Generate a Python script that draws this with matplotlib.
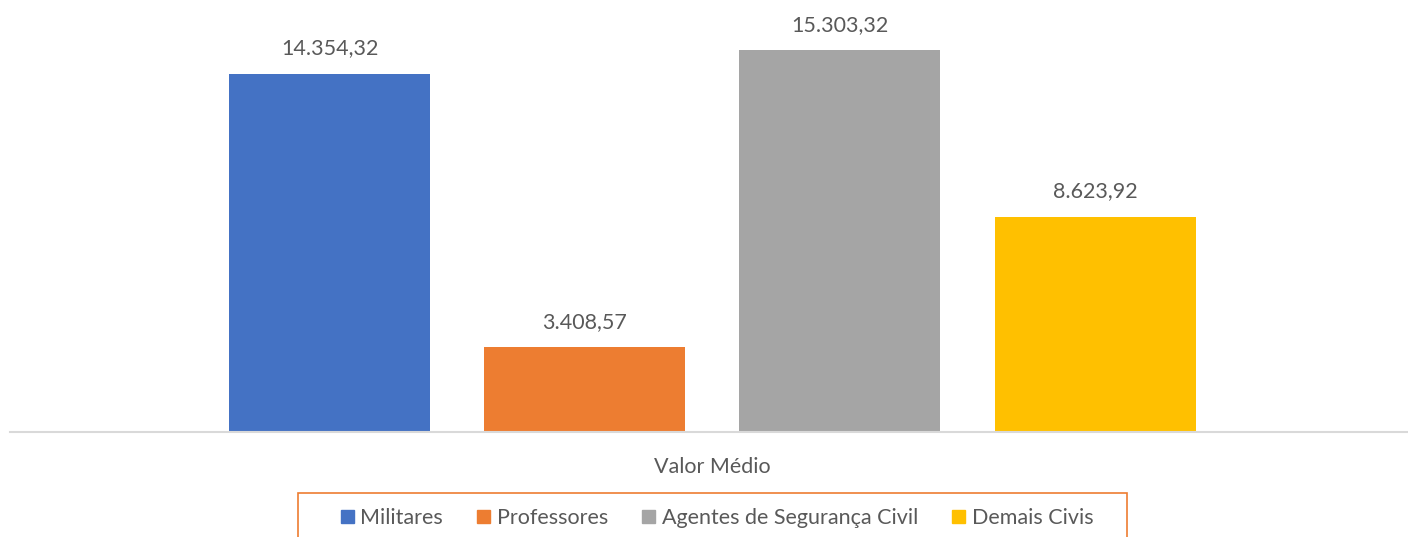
import matplotlib.pyplot as plt
import matplotlib.patches as mpatches

# Data
categoria = 'Valor Médio'
grupos = ['Militares', 'Professores', 'Agentes de Segurança Civil', 'Demais Civis']
valores = [14354.32, 3408.57, 15303.32, 8623.92]
rotulos = ['14.354,32', '3.408,57', '15.303,32', '8.623,92']
cores = ['#4472C4', '#ED7D31', '#A5A5A5', '#FFC000']

texto = '#595959'
plt.rcParams['font.family'] = ['Lato', 'DejaVu Sans']

W, H = 1408, 537
fig = plt.figure(figsize=(W / 100, H / 100), dpi=100)

# axes: x from 10px to 1408px, baseline at 432px from top
ax = fig.add_axes([10 / W, (H - 432) / H, 1 - 10 / W, 424.3 / H])
pos = list(range(len(grupos)))
bars = ax.bar(pos, valores, width=0.788, color=cores, zorder=2)

for b, lab in zip(bars, rotulos):
    ax.annotate(lab, xy=(b.get_x() + b.get_width() / 2, b.get_height()),
                xytext=(0, 11), textcoords='offset points',
                ha='center', va='bottom', fontsize=15.5, color=texto)

ax.set_xlim(-1.252, 4.226)
ax.set_ylim(0, 17000)
ax.set_yticks([])
ax.set_xticks([1.5])
ax.set_xticklabels([categoria], fontsize=15.5, color=texto)
ax.tick_params(axis='x', length=0, pad=18)
for s in ['top', 'right', 'left']:
    ax.spines[s].set_visible(False)
ax.spines['bottom'].set_color('#D9D9D9')
ax.spines['bottom'].set_linewidth(1.5)

# legend box (orange frame, cut by the bottom edge)
box = mpatches.Rectangle((298 / W, -10 / H), (1127 - 298) / W, (H - 493 + 10) / H,
                         transform=fig.transFigure, fill=False,
                         edgecolor='#ED7D31', linewidth=1.2)
fig.patches.append(box)

handles = [mpatches.Patch(color=c, label=g) for c, g in zip(cores, grupos)]
fig.legend(handles=handles, loc='center', bbox_to_anchor=(717 / W, 1 - 518 / H),
           ncol=4, frameon=False, fontsize=15.5, handlelength=0.6, handleheight=0.6,
           handletextpad=0.3, columnspacing=1.6, labelcolor=texto)

fig.savefig('out.png', dpi=100)
